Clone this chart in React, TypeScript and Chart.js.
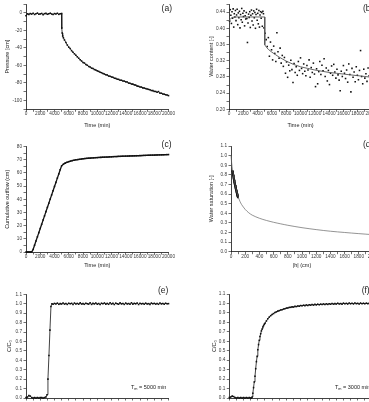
import React, { useEffect, useRef } from "react";
import { Chart, registerables } from "chart.js";

Chart.register(...registerables);

const FONT = "'Liberation Sans', Arial, Helvetica, sans-serif";
const INK = "#111";
const TICK_INK = "#3a3a3a";

// ---------- (a) pressure head at the tensiometer ----------
const aTime = [
  0, 200, 400, 600, 800, 1000, 1200, 1400, 1600, 1800, 2000, 2200, 2400, 2600, 2800, 3000, 3200, 3400, 3600, 3800,
  4000, 4200, 4400, 4600, 4800, 5000,
  5020, 5080, 5150, 5250,
  5400, 5600, 5800, 6000, 6200, 6400, 6600, 6800, 7000, 7200, 7400, 7600, 7800, 8000, 8200, 8400, 8600, 8800, 9000,
  9200, 9400, 9600, 9800, 10000,
  10200, 10400, 10600, 10800, 11000, 11200, 11400, 11600, 11800, 12000, 12200, 12400, 12600, 12800, 13000, 13200,
  13400, 13600, 13800, 14000,
  14200, 14400, 14600, 14800, 15000, 15200, 15400, 15600, 15800, 16000, 16200, 16400, 16600, 16800, 17000, 17200,
  17400, 17600, 17800, 18000,
  18200, 18400, 18600, 18800, 19000, 19200, 19400, 19600, 19800, 20000,
];
const aPressure = [
  -3.5, -1.2, -1.8, -0.9, -1.5, -0.6, -1.9, -1.1, -0.4, -1.6, -1.3, -0.8, -2.1, -1.0, -0.7, -1.7, -1.2, -0.5, -1.4, -2.0,
  -0.9, -1.3, -0.6, -1.8, -1.1, -0.8,
  -17.5, -23, -26.5, -28.5,
  -31, -33.8, -36.8, -39.2, -40.8, -43.2, -44.9, -46.8, -48.3, -50.2, -51.8, -53.6, -54.9, -56.7, -57.3, -58.9, -59.8,
  -61.2, -61.8, -63.1, -63.4, -64.7, -65.3, -66.2,
  -66.8, -67.7, -68.3, -69.2, -69.8, -70.7, -70.9, -72.1, -72.4, -73.2, -73.4, -74.6, -74.8, -75.7, -75.9, -76.8,
  -76.9, -77.8, -77.9, -78.7,
  -78.8, -80.1, -80.3, -81.2, -81.3, -82.2, -82.4, -83.6, -83.8, -84.6, -84.7, -85.6, -85.8, -86.4, -86.9, -87.3,
  -87.8, -88.6, -88.7, -89.6,
  -89.7, -90.6, -89.8, -91.6, -91.7, -92.6, -92.8, -93.4, -93.7, -94.4,
];

// ---------- (b) water content: measured scatter and fitted curve ----------
const bTime = [
  100, 180, 260, 340, 420, 500, 580, 660, 740, 820, 900, 980, 1060, 1140, 1220, 1300, 1380, 1460, 1540, 1620,
  1700, 1780, 1860, 1940, 2020, 2100, 2180, 2260, 2340, 2420, 2500, 2580, 2660, 2740, 2820, 2900, 2980, 3060, 3140, 3220,
  3300, 3380, 3460, 3540, 3620, 3700, 3780, 3860, 3940, 4020, 4100, 4180, 4260, 4340, 4420, 4500, 4580, 4660, 4740, 4820,
  4900,
  5050, 5200, 5350, 5500, 5650, 5800, 5950, 6100, 6250, 6400, 6550, 6700, 6850, 7000, 7150, 7300, 7450, 7600, 7750, 7900,
  8050, 8200, 8350, 8500, 8650, 8800, 8950, 9100, 9250, 9400, 9550, 9700, 9850, 10000, 10150, 10300, 10450, 10600, 10750,
  10900, 11050, 11200, 11350, 11500, 11650, 11800, 11950, 12100, 12250, 12400, 12550, 12700, 12850, 13000, 13150, 13300,
  13450, 13600, 13750, 13900, 14050, 14200, 14350, 14500, 14650, 14800, 14950, 15100, 15250, 15400, 15550, 15700, 15850,
  16000, 16150, 16300, 16450, 16600, 16750, 16900, 17050, 17200, 17350, 17500, 17650, 17800, 17950, 18100, 18250, 18400,
  18550, 18700, 18850, 19000, 19150, 19300, 19450, 19600, 19750, 19900,
];
const bWater = [
  0.418, 0.446, 0.432, 0.412, 0.441, 0.425, 0.448, 0.403, 0.436, 0.428, 0.444, 0.419, 0.433, 0.447, 0.409, 0.438, 0.426,
  0.442, 0.401, 0.434, 0.421, 0.449, 0.415, 0.437, 0.429, 0.443, 0.406, 0.431, 0.423, 0.439, 0.424, 0.365, 0.413, 0.435,
  0.427, 0.441, 0.402, 0.432, 0.445, 0.418, 0.436, 0.408, 0.443, 0.426, 0.439, 0.4, 0.434, 0.447, 0.42, 0.437, 0.411,
  0.444, 0.403, 0.433, 0.441, 0.425, 0.439, 0.405, 0.442, 0.436, 0.401,
  0.388, 0.372, 0.355, 0.377, 0.331, 0.366, 0.347, 0.322, 0.356, 0.338, 0.318, 0.389, 0.342, 0.326, 0.351, 0.314, 0.333,
  0.306, 0.328, 0.289, 0.317, 0.279, 0.309, 0.295, 0.321, 0.298, 0.266, 0.313, 0.291, 0.305, 0.284, 0.318, 0.296, 0.327,
  0.301, 0.288, 0.312, 0.294, 0.283, 0.308, 0.297, 0.322, 0.279, 0.303, 0.291, 0.314, 0.287, 0.256, 0.3, 0.263, 0.293,
  0.318, 0.286, 0.309, 0.295, 0.325, 0.281, 0.302, 0.27, 0.296, 0.261, 0.289, 0.307, 0.284, 0.311, 0.292, 0.277, 0.299,
  0.285, 0.272, 0.246, 0.294, 0.281, 0.308, 0.289, 0.276, 0.297, 0.267, 0.312, 0.286, 0.243, 0.301, 0.279, 0.292, 0.268,
  0.305, 0.284, 0.273, 0.296, 0.345, 0.281, 0.263, 0.299, 0.277, 0.288, 0.269, 0.302, 0.283, 0.251, 0.32,
];
const bFitTime = [
  0, 150, 300, 500, 800, 1500, 3000, 5000, 5000, 5250, 5500, 6000, 6500, 7000, 7500, 8000, 9000, 10000, 11000, 12000,
  13000, 14000, 15000, 16000, 17000, 18000, 19000, 20000,
];
const bFitWater = [
  0.417, 0.422, 0.425, 0.427, 0.428, 0.428, 0.428, 0.428, 0.359, 0.353, 0.348, 0.341, 0.335, 0.329, 0.324, 0.319, 0.311,
  0.305, 0.301, 0.297, 0.294, 0.291, 0.289, 0.287, 0.285, 0.283, 0.281, 0.279,
];

// ---------- (c) cumulative outflow ----------
const cTime = [
  0, 200, 400, 600, 800, 1000, 1200, 1400, 1600, 1800, 2000, 2200, 2400, 2600, 2800, 3000, 3200, 3400, 3600, 3800,
  4000, 4200, 4400, 4600, 4800, 5000,
  5250, 5500, 5750, 6000, 6250, 6500, 6750, 7000, 7250, 7500, 7750, 8000, 8250, 8500, 8750, 9000, 9250, 9500, 9750, 10000,
  10250, 10500, 10750, 11000, 11250, 11500, 11750, 12000, 12250, 12500, 12750, 13000, 13250, 13500, 13750, 14000, 14250,
  14500, 14750, 15000, 15250, 15500, 15750, 16000, 16250, 16500, 16750, 17000, 17250, 17500, 17750, 18000, 18250, 18500,
  18750, 19000, 19250, 19500, 19750, 20000,
];
const cOutflow = [
  0, 0, 0, 0, 0.1, 1.9, 5.1, 8.3, 11.5, 14.7, 17.8, 21.0, 24.2, 27.4, 30.6, 33.8, 36.9, 40.1, 43.3, 46.5,
  49.7, 52.8, 56.0, 59.2, 62.4, 65.4,
  66.6, 67.4, 68.0, 68.5, 68.9, 69.3, 69.6, 69.9, 70.1, 70.3, 70.5, 70.7, 70.85, 71.0, 71.1, 71.2, 71.3, 71.4, 71.5, 71.6,
  71.7, 71.75, 71.85, 71.9, 72.0, 72.05, 72.15, 72.2, 72.3, 72.35, 72.4, 72.5, 72.55, 72.6, 72.65, 72.7, 72.75, 72.8,
  72.85, 72.9, 72.95, 73.0, 73.05, 73.1, 73.15, 73.2, 73.25, 73.3, 73.35, 73.4, 73.45, 73.5, 73.55, 73.6, 73.65, 73.7,
  73.75, 73.8, 73.85, 73.9,
];

// ---------- (d) retention curve: fitted line and measured points ----------
const dHead = [0, 5, 10, 20, 30, 40, 50, 60, 75, 100, 125, 150, 200, 250, 300, 400, 500, 600, 700, 800, 1000, 1200, 1400, 1600, 1800, 2000];
const dSaturation = [
  1.0, 0.96, 0.92, 0.86, 0.815, 0.765, 0.725, 0.69, 0.64, 0.575, 0.525, 0.49, 0.44, 0.405, 0.38, 0.348, 0.325, 0.306,
  0.29, 0.275, 0.25, 0.23, 0.213, 0.2, 0.188, 0.177,
];
const dHeadObs = [22, 25, 28, 31, 34, 37, 40, 43, 46, 49, 52, 55, 58, 61, 64, 67, 70, 73, 76, 79, 82, 85, 88, 91, 94, 97, 100];
const dSaturationObs = [
  0.84, 0.83, 0.815, 0.8, 0.79, 0.775, 0.76, 0.75, 0.74, 0.725, 0.715, 0.705, 0.695, 0.685, 0.675, 0.665, 0.655, 0.645,
  0.635, 0.625, 0.615, 0.605, 0.595, 0.588, 0.58, 0.572, 0.565,
];

// ---------- (e) breakthrough, Tm = 5000 min ----------
const eTime = [
  0, 200, 400, 600, 800, 1000, 1200, 1400, 1600, 1800, 2000, 2200, 2400, 2600, 2800,
  2950, 3080, 3220, 3360, 3500, 3640,
  3800, 4000, 4200, 4400, 4600, 4800, 5000, 5200, 5400, 5600, 5800, 6000, 6200, 6400, 6600, 6800, 7000, 7200, 7400, 7600,
  7800, 8000, 8200, 8400, 8600, 8800, 9000, 9200, 9400, 9600, 9800, 10000, 10200, 10400, 10600, 10800, 11000, 11200,
  11400, 11600, 11800, 12000, 12200, 12400, 12600, 12800, 13000, 13200, 13400, 13600, 13800, 14000, 14200, 14400, 14600,
  14800, 15000, 15200, 15400, 15600, 15800, 16000, 16200, 16400, 16600, 16800, 17000, 17200, 17400, 17600, 17800, 18000,
  18200, 18400, 18600, 18800, 19000, 19200, 19400, 19600, 19800, 20000,
];
const eRatio = [
  0.005, 0.01, 0.025, 0.02, 0.005, 0, 0.005, 0, 0.005, 0, 0.005, 0.005, 0, 0.005, 0.01,
  0.035, 0.2, 0.45, 0.72, 0.97, 1.0,
  0.995, 1.003, 0.998, 1.006, 0.994, 1.001, 0.997, 1.008, 0.996, 1.002, 0.993, 1.005, 0.999, 1.004, 0.992, 1.007, 0.998,
  1.003, 0.995, 1.009, 0.997, 1.001, 0.994, 1.006, 1.0, 0.996, 1.01, 0.993, 1.004, 0.998, 1.007, 0.995, 1.002, 0.991,
  1.005, 0.999, 1.008, 0.996, 1.003, 0.994, 1.011, 0.997, 1.004, 0.992, 1.006, 1.0, 0.995, 1.009, 0.998, 1.003, 0.993,
  1.007, 0.997, 1.002, 0.994, 1.01, 0.996, 1.004, 0.999, 1.008, 0.992, 1.005, 0.998, 1.003, 0.995, 1.006, 0.997, 1.001,
  0.993, 1.007, 0.999, 1.004, 0.996, 1.002, 0.994, 1.008, 0.998, 1.003, 0.995, 1.005, 0.999, 1.001,
];

// ---------- (f) breakthrough, Tm = 3000 min ----------
const fTime = [
  0, 200, 400, 600, 800, 1000, 1200, 1400, 1600, 1800, 2000, 2200, 2400, 2600, 2800, 3000,
  3100, 3200, 3300, 3400, 3500, 3600, 3700, 3800, 3900, 4000, 4100, 4200, 4300, 4400, 4500, 4600, 4700, 4800, 4900, 5000,
  5200, 5400, 5600, 5800, 6000, 6200, 6400, 6600, 6800, 7000, 7200, 7400, 7600, 7800, 8000, 8200, 8400, 8600, 8800, 9000,
  9200, 9400, 9600, 9800, 10000, 10200, 10400, 10600, 10800, 11000, 11200, 11400, 11600, 11800, 12000, 12200, 12400,
  12600, 12800, 13000, 13200, 13400, 13600, 13800, 14000, 14200, 14400, 14600, 14800, 15000, 15200, 15400, 15600, 15800,
  16000, 16200, 16400, 16600, 16800, 17000, 17200, 17400, 17600, 17800, 18000, 18200, 18400, 18600, 18800, 19000, 19200,
  19400, 19600, 19800, 20000,
];
const fRatio = [
  0.005, 0.01, 0.02, 0.015, 0.005, 0, 0.005, 0, 0.005, 0, 0.005, 0, 0.005, 0, 0.005, 0,
  0.0, 0.01, 0.05, 0.11, 0.17, 0.23, 0.31, 0.385, 0.44, 0.51, 0.565, 0.61, 0.65, 0.68, 0.71, 0.73, 0.75, 0.765, 0.78, 0.79,
  0.815, 0.838, 0.856, 0.871, 0.884, 0.893, 0.905, 0.911, 0.919, 0.924, 0.931, 0.934, 0.941, 0.944, 0.951, 0.952, 0.958,
  0.959, 0.964, 0.962, 0.969, 0.967, 0.974, 0.971, 0.978, 0.975, 0.981, 0.977, 0.984, 0.979, 0.986, 0.982, 0.988, 0.983,
  0.99, 0.985, 0.992, 0.986, 0.993, 0.988, 0.995, 0.989, 0.996, 0.99, 0.997, 0.992, 1.0, 0.993, 0.998, 0.994, 1.002,
  0.995, 0.999, 0.993, 1.003, 0.996, 1.001, 0.994, 1.004, 0.997, 1.002, 0.995, 1.005, 0.998, 1.001, 0.994, 1.004, 0.997,
  1.002, 0.996, 1.003, 0.998, 1.001, 0.997, 1.002,
];

const TIME_TITLE = "Time (min)";

type Axis = {
  min: number;
  max: number;
  major: number;
  minor: number;
  decimals: number;
  labels: boolean;
  title?: string;
  titlePad?: number;
};

type Panel = {
  key: string;
  box: { left: number; top: number; width: number; height: number };
  yAxisWidth: number;
  xAxisHeight: number;
  padTop: number;
  padRight: number;
  x: Axis;
  y: Axis;
  datasets: any[];
  tag: { text: string; x: number; y: number };
  note?: { x: number; y: number; value: string };
};

const pairs = (xs: number[], ys: number[]) => xs.map((x, i) => ({ x, y: ys[i] }));

const isMajor = (v: number, step: number) => Math.abs(v / step - Math.round(v / step)) < 1e-6;

function buildTicks(ax: Axis) {
  const out: { value: number }[] = [];
  const n = Math.round((ax.max - ax.min) / ax.minor);
  for (let i = 0; i <= n; i++) out.push({ value: +(ax.min + i * ax.minor).toFixed(6) });
  return out;
}

function makeScale(ax: Axis, horizontal: boolean, size: number) {
  return {
    type: "linear",
    position: horizontal ? "bottom" : "left",
    min: ax.min,
    max: ax.max,
    afterBuildTicks: (scale: any) => {
      scale.ticks = buildTicks(ax);
    },
    afterFit: (scale: any) => {
      if (horizontal) scale.height = size;
      else scale.width = size;
      scale.paddingLeft = 0;
      scale.paddingRight = 0;
      scale.paddingTop = 0;
      scale.paddingBottom = 0;
    },
    grid: {
      display: true,
      drawOnChartArea: false,
      drawTicks: true,
      tickLength: 2.5,
      tickColor: INK,
      tickWidth: 0.6,
      color: INK,
    },
    border: { display: true, color: INK, width: 0.8 },
    ticks: {
      autoSkip: false,
      maxRotation: 0,
      minRotation: 0,
      padding: horizontal ? 0 : 1.5,
      color: TICK_INK,
      font: { family: FONT, size: 4.7, lineHeight: 1 },
      callback: (v: any) => (ax.labels && isMajor(Number(v), ax.major) ? Number(v).toFixed(ax.decimals) : ""),
    },
    title: ax.title
      ? {
          display: true,
          text: ax.title,
          color: "#222",
          font: { family: FONT, size: 5.5, lineHeight: 1.2 },
          padding: horizontal ? { top: 0, bottom: ax.titlePad ?? 0 } : { top: ax.titlePad ?? 0, bottom: 0 },
        }
      : { display: false },
  };
}

const markerLine = (data: { x: number; y: number }[], width = 0.8, radius = 1.1) => ({
  data,
  showLine: true,
  borderColor: INK,
  borderWidth: width,
  pointStyle: "rect",
  pointRadius: radius,
  pointBackgroundColor: INK,
  pointBorderWidth: 0,
  clip: false,
});

const timeAxis = (labels: boolean, titlePad?: number): Axis => ({
  min: 0,
  max: 20000,
  major: 2000,
  minor: 1000,
  decimals: 0,
  labels,
  title: labels ? TIME_TITLE : undefined,
  titlePad,
});

const unitAxis = (title: string, titlePad: number): Axis => ({
  min: 0,
  max: 1.1,
  major: 0.1,
  minor: 0.1,
  decimals: 1,
  labels: true,
  title,
  titlePad,
});

const PANELS: Panel[] = [
  {
    key: "a",
    box: { left: 0, top: 0, width: 185, height: 135 },
    yAxisWidth: 26,
    xAxisHeight: 25.7,
    padTop: 4,
    padRight: 16.5,
    x: timeAxis(true, 6.2),
    y: { min: -110, max: 10, major: 20, minor: 10, decimals: 0, labels: true, title: "Pressure [cm]", titlePad: 3.7 },
    datasets: [markerLine(pairs(aTime, aPressure))],
    tag: { text: "(a)", x: 172, y: 9 },
  },
  {
    key: "b",
    box: { left: 185, top: 0, width: 200, height: 135 },
    yAxisWidth: 44,
    xAxisHeight: 25.7,
    padTop: 4,
    padRight: 13,
    x: timeAxis(true, 6.2),
    y: { min: 0.2, max: 0.46, major: 0.04, minor: 0.02, decimals: 2, labels: true, title: "Water content [-]", titlePad: 23.4 },
    datasets: [
      {
        data: pairs(bFitTime, bFitWater),
        showLine: true,
        borderColor: "#555",
        borderWidth: 0.9,
        pointRadius: 0,
        clip: false,
      },
      {
        data: pairs(bTime, bWater),
        showLine: false,
        pointStyle: "rect",
        pointRadius: 1.1,
        pointBackgroundColor: INK,
        pointBorderWidth: 0,
        clip: false,
      },
    ],
    tag: { text: "(b)", x: 188.4, y: 9 },
  },
  {
    key: "c",
    box: { left: 0, top: 135, width: 185, height: 135 },
    yAxisWidth: 26,
    xAxisHeight: 18,
    padTop: 11.5,
    padRight: 16.5,
    x: timeAxis(true, 1.0),
    y: { min: 0, max: 80, major: 10, minor: 5, decimals: 0, labels: true, title: "Cumulative outflow (cm)", titlePad: 3.7 },
    datasets: [markerLine(pairs(cTime, cOutflow), 1.3, 1.1)],
    tag: { text: "(c)", x: 171.5, y: 10 },
  },
  {
    key: "d",
    box: { left: 185, top: 135, width: 200, height: 135 },
    yAxisWidth: 46,
    xAxisHeight: 18.3,
    padTop: 11,
    padRight: 12,
    x: { min: 0, max: 2000, major: 200, minor: 100, decimals: 0, labels: true, title: "|h| (cm)", titlePad: 1.0 },
    y: unitAxis("Water saturation [-]", 22.7),
    datasets: [
      {
        data: pairs(dHead, dSaturation),
        showLine: true,
        borderColor: "#666",
        borderWidth: 0.7,
        pointRadius: 0,
        tension: 0.3,
        clip: false,
      },
      {
        data: pairs(dHeadObs, dSaturationObs),
        showLine: true,
        borderColor: INK,
        borderWidth: 2,
        pointStyle: "rect",
        pointRadius: 1.3,
        pointBackgroundColor: INK,
        pointBorderWidth: 0,
        clip: false,
      },
    ],
    tag: { text: "(d)", x: 188.4, y: 10 },
  },
  {
    key: "e",
    box: { left: 0, top: 270, width: 185, height: 132 },
    yAxisWidth: 26,
    xAxisHeight: 3.7,
    padTop: 24.3,
    padRight: 16.5,
    x: timeAxis(false),
    y: unitAxis("C/C₀", 6.0),
    datasets: [markerLine(pairs(eTime, eRatio))],
    tag: { text: "(e)", x: 168.3, y: 20.7 },
    note: { x: 131, y: 119, value: "5000" },
  },
  {
    key: "f",
    box: { left: 185, top: 270, width: 200, height: 132 },
    yAxisWidth: 44.3,
    xAxisHeight: 4,
    padTop: 24,
    padRight: 13,
    x: timeAxis(false),
    y: unitAxis("C/C₀", 25.7),
    datasets: [markerLine(pairs(fTime, fRatio))],
    tag: { text: "(f)", x: 184.7, y: 20.7 },
    note: { x: 150, y: 119, value: "3000" },
  },
];

function panelTextPlugin(panel: Panel) {
  return {
    id: "panelText",
    afterDraw(chart: any) {
      const ctx: CanvasRenderingContext2D = chart.ctx;
      ctx.save();
      ctx.fillStyle = "#222";
      ctx.font = `8.5px ${FONT}`;
      ctx.textAlign = "right";
      ctx.textBaseline = "middle";
      ctx.fillText(panel.tag.text, panel.tag.x, panel.tag.y);
      if (panel.note) {
        const { x: x0, y, value } = panel.note;
        let x = x0;
        ctx.textAlign = "left";
        ctx.textBaseline = "alphabetic";
        ctx.font = `5.5px ${FONT}`;
        ctx.fillText("T", x, y);
        x += ctx.measureText("T").width;
        ctx.font = `3.8px ${FONT}`;
        ctx.fillText("m", x, y + 1.4);
        x += ctx.measureText("m").width;
        ctx.font = `5.5px ${FONT}`;
        ctx.fillText(` = ${value} min`, x, y);
      }
      ctx.restore();
    },
  };
}

function PanelChart({ panel }: { panel: Panel }) {
  const ref = useRef<HTMLCanvasElement>(null);
  useEffect(() => {
    if (!ref.current) return;
    const chart = new Chart(ref.current, {
      type: "scatter",
      data: { datasets: panel.datasets },
      options: {
        responsive: false,
        maintainAspectRatio: false,
        animation: false,
        events: [],
        devicePixelRatio: 1,
        layout: { padding: { left: 0, top: panel.padTop, right: panel.padRight, bottom: 0 } },
        plugins: { legend: { display: false }, tooltip: { enabled: false } },
        scales: {
          x: makeScale(panel.x, true, panel.xAxisHeight),
          y: makeScale(panel.y, false, panel.yAxisWidth),
        } as any,
      },
      plugins: [panelTextPlugin(panel)],
    } as any);
    return () => chart.destroy();
  }, [panel]);
  const { left, top, width, height } = panel.box;
  return (
    <canvas
      ref={ref}
      width={width}
      height={height}
      style={{ position: "absolute", left, top, width, height }}
    />
  );
}

export default function App() {
  return (
    <div
      style={{
        position: "fixed",
        left: 0,
        top: 0,
        width: 369,
        height: 402,
        overflow: "hidden",
        background: "#fff",
      }}
    >
      {PANELS.map((p) => (
        <PanelChart key={p.key} panel={p} />
      ))}
    </div>
  );
}
